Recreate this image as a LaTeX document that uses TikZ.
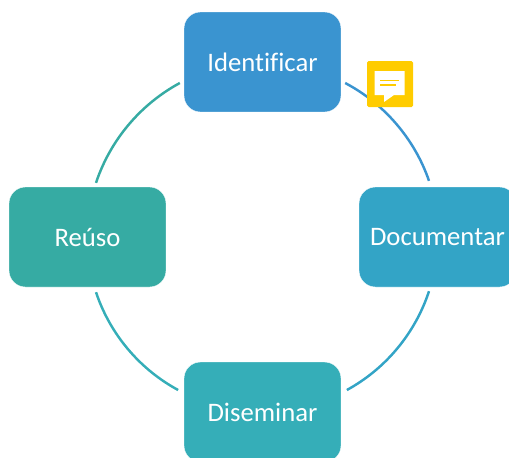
\documentclass[tikz,border=0pt]{standalone}
\usepackage{fontspec}
\setmainfont{Carlito}[Ligatures=NoCommon]
\definecolor{boxa}{HTML}{3A94D0}
\definecolor{boxb}{HTML}{33A4C6}
\definecolor{boxc}{HTML}{35AEB8}
\definecolor{boxd}{HTML}{36ABA3}
\definecolor{noteyellow}{HTML}{FFCC00}
\tikzset{
    stage/.style={rounded corners=0.33cm,minimum width=3.14cm,minimum height=2cm,text=white,font=\fontsize{15.2}{18}\selectfont,draw=white,line width=0.2pt},
    link/.style={line width=1.4pt,bend left=21.6,looseness=0.88},
    noteline/.style={noteyellow,line width=0.8pt}
}
\begin{document}
\begin{tikzpicture}[x=0.02cm,y=-0.02cm]
    \useasboundingbox (0,0) rectangle (509,457);
    \clip (0,0) rectangle (509,457);
    \node[stage,fill=boxa] (identificar) at (262.5,62) {Identificar};
    \node[stage,fill=boxb] (documentar) at (437.5,237) {Documentar};
    \node[stage,fill=boxc] (diseminar) at (262.5,412) {Diseminar};
    \node[stage,fill=boxd] (reuso) at (87.5,237) {Reúso};
    \draw[link,boxa] ([shift={(4,21)}]identificar.east) to ([shift={(-8.5,-6)}]documentar.north);
    \draw[link,boxb] ([shift={(-8.5,4)}]documentar.south) to ([shift={(5.7,-22)}]diseminar.east);
    \draw[link,boxc] ([shift={(-5.7,-22)}]diseminar.west) to ([shift={(8.5,5)}]reuso.south);
    \draw[link,boxd] ([shift={(8.5,-4)}]reuso.north) to ([shift={(-4,21)}]identificar.west);
    % comment mark
    \node[fill=noteyellow,rounded corners=0.03cm,minimum size=0.92cm,inner sep=0pt] (note) at (390,84) {};
    \fill[white] (374.7,71) -- (404.7,71) -- (404.7,95) -- (394,95) -- (384,102) -- (384,95) -- (374.7,95) -- cycle;
    \draw[noteline] (380,80.5) -- (399,80.5);
    \draw[noteline] (380,85) -- (396,85);
\end{tikzpicture}
\end{document}
